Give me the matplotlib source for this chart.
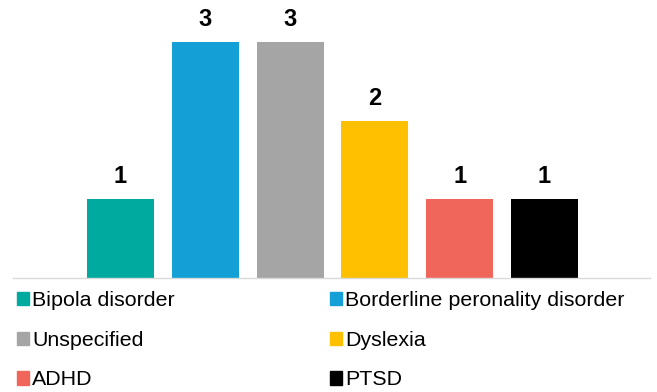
import matplotlib.pyplot as plt
import numpy as np
from matplotlib.patches import Patch

categories = ['Bipola disorder', 'Borderline peronality disorder', 'Unspecified',
              'Dyslexia', 'ADHD', 'PTSD']
counts = [1, 3, 3, 2, 1, 1]
colors = ['#00aa9f', '#149fd6', '#a5a5a5', '#ffc000', '#f1665a', '#000000']

plt.rcParams['font.family'] = ['Liberation Sans', 'DejaVu Sans']

fig = plt.figure(figsize=(6.57, 3.92), dpi=100)
ax = fig.add_axes([13/657, 114/392, 637/657, 258/392])

x = np.arange(len(categories))
bars = ax.bar(x, counts, width=0.79, color=colors)
ax.bar_label(bars, labels=[str(c) for c in counts], padding=8,
             fontsize=17, fontweight='bold')

ax.set_xlim(-1.268, 6.244)
ax.set_ylim(0, 3.28)
for s in ['top', 'right', 'left']:
    ax.spines[s].set_visible(False)
ax.spines['bottom'].set_color('#d9d9d9')
ax.spines['bottom'].set_linewidth(1)
ax.set_xticks([])
ax.set_yticks([])

# legende em duas colunas, ordem por linha
handles = [Patch(color=c, label=l) for c, l in zip(colors, categories)]
order = [0, 2, 4, 1, 3, 5]
fig.legend([handles[i] for i in order], [categories[i] for i in order],
           ncol=2, loc='upper left', bbox_to_anchor=(17/657, 1 - 291/392),
           frameon=False, fontsize=15.4, handlelength=0.57, handleheight=0.57,
           handletextpad=0.15, labelspacing=0.97, columnspacing=7.24,
           borderaxespad=0, borderpad=0)

fig.savefig('out.png', dpi=100)
